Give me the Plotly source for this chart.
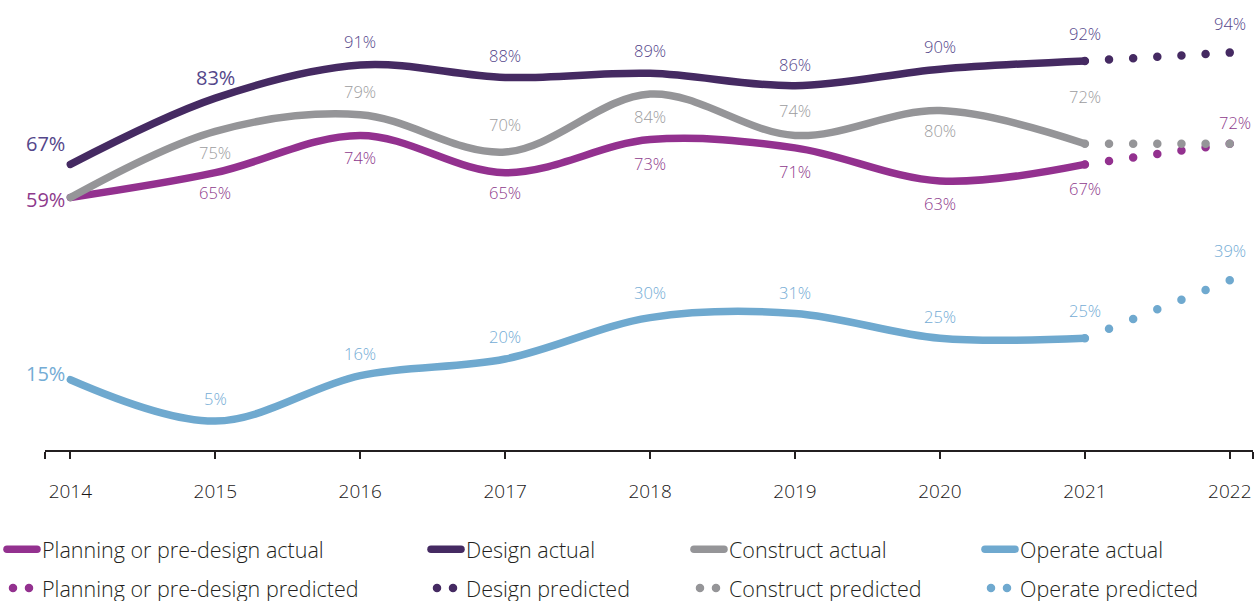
import plotly.graph_objects as go

# data
years = [2014, 2015, 2016, 2017, 2018, 2019, 2020, 2021]
pred_years = [2021, 2022]
label_years = years + [2022]

planning = [59, 65, 74, 65, 73, 71, 63, 67]
planning_pred = [67, 72]
design = [67, 83, 91, 88, 89, 86, 90, 92]
design_pred = [92, 94]
construct = [59, 75, 79, 70, 84, 74, 80, 72]
construct_pred = [72, 72]
operate = [15, 5, 16, 20, 30, 31, 25, 25]
operate_pred = [25, 39]

tick_years = ["2014", "2015", "2016", "2017", "2018", "2019", "2020", "2021", "2022"]

# series: name, actual, predicted, line colour, label colour, label shifts (px), legend
series = [
    ("Planning or pre-design", planning, planning_pred, "#93318f", "#8e3a8c",
     [-2, -20, -22, -20, -24, -24, -23, -24, 21], "legend"),
    ("Design", design, design_pred, "#452a62", "#54468a",
     [21, 21, 24, 22, 23, 21, 23, 27, 29], "legend2"),
    ("Construct", construct, construct_pred, "#959598", "#9c9c9e",
     [None, -21, 23, 27, -22, 25, -20, 47, None], "legend3"),
    ("Operate", operate, operate_pred, "#6fa9cf", "#74acd5",
     [6, 23, 22, 23, 25, 21, 22, 28, 30], "legend4"),
]

FONT = "'Open Sans', Lato, sans-serif"
x_range = [2013.825, 2022.16]
y_range = [-1.98, 101.88]

fig = go.Figure()
annotations = []

for name, actual, pred, color, lcolor, shifts, leg in series:
    fig.add_trace(go.Scatter(
        x=years, y=actual, mode="lines", name=name + " actual",
        line=dict(color=color, width=7.5, shape="spline", smoothing=1.0),
        legend=leg, legendgroup=name + "a", hoverinfo="skip",
    ))
    fig.add_trace(go.Scatter(
        x=pred_years, y=pred, mode="lines", name=name + " predicted",
        line=dict(color=color, width=8.5, dash="dot"),
        legend=leg, legendgroup=name + "p", hoverinfo="skip",
    ))
    values = actual + [pred[-1]]
    for i, (yr, v) in enumerate(zip(label_years, values)):
        if shifts[i] is None:
            continue
        big = yr == 2014 or (name == "Design" and yr == 2015)
        annotations.append(dict(
            x=yr, y=v, xref="x", yref="y", text=f"{v}%", showarrow=False,
            xshift=-25 if yr == 2014 else (5 if (yr == 2022 and name.startswith("Plan")) else 0),
            yshift=shifts[i],
            font=dict(family=FONT, size=20 if big else 16.5, color=lcolor,
                      weight=400 if big else 300),
        ))

legend_x = {"legend": -0.0356, "legend2": 0.3154, "legend3": 0.5331, "legend4": 0.774}
legend_common = dict(
    y=-0.183, yanchor="top", xanchor="left", bgcolor="rgba(0,0,0,0)",
    font=dict(family=FONT, size=21.5, color="#231f20", weight=300),
    traceorder="grouped", tracegroupgap=8, itemwidth=30,
)

tickvals = [x_range[0] + 0.002] + [int(t) for t in tick_years] + [x_range[1] - 0.002]
ticktext = [""] + tick_years + [""]

fig.update_layout(
    width=1260, height=601,
    margin=dict(l=45, r=7, t=20, b=151, autoexpand=False),
    plot_bgcolor="white", paper_bgcolor="white",
    font=dict(family=FONT),
    annotations=annotations,
    xaxis=dict(
        range=x_range, showgrid=False, zeroline=False,
        showline=True, linecolor="#231f20", linewidth=2,
        tickmode="array", tickvals=tickvals, ticktext=ticktext,
        ticks="outside", ticklen=7, tickwidth=2, tickcolor="#231f20",
        ticklabelstandoff=16,
        tickfont=dict(family=FONT, size=19, color="#1a1718", weight=300),
    ),
    xaxis2=dict(
        range=x_range, overlaying="x", anchor="y", side="bottom",
        showgrid=False, zeroline=False, showline=False,
        tickmode="array", tickvals=tickvals, showticklabels=False,
        ticks="inside", ticklen=7, tickwidth=2, tickcolor="#231f20",
    ),
    yaxis=dict(range=y_range, visible=False, showgrid=False, zeroline=False),
    legend=dict(x=legend_x["legend"], **legend_common),
    legend2=dict(x=legend_x["legend2"], **legend_common),
    legend3=dict(x=legend_x["legend3"], **legend_common),
    legend4=dict(x=legend_x["legend4"], **legend_common),
)

# no page margin; round caps, and turn the dotted segments into round dots
post = """
document.body.style.margin = '0';
var gd = document.getElementById('{plot_id}');
gd.querySelectorAll('path.js-line').forEach(function(p) {
  p.style.strokeLinecap = 'round';
  var d = p.style.strokeDasharray;
  if (d && d !== 'none') {
    if (!p.closest('.scatterlayer')) {
      p.style.strokeDasharray = '0px,16px';
      p.style.strokeDashoffset = '-6px';
    } else {
      var L = p.getTotalLength();
      p.style.strokeDasharray = '0px,' + (L / 6 * 0.9995) + 'px';
    }
  }
});
"""

fig.write_html("out.html", post_script=post, config={"displayModeBar": False})
